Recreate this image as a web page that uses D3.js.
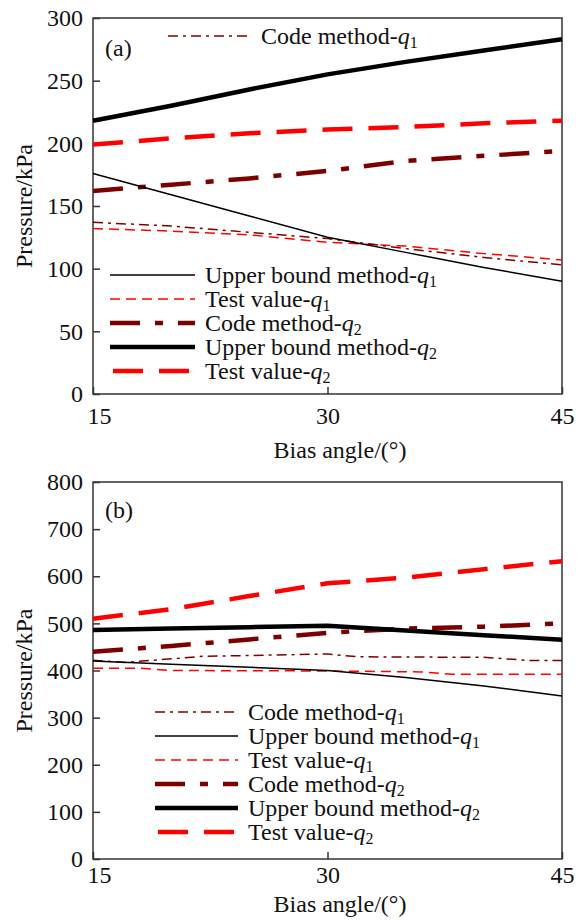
<!DOCTYPE html>
<html>
<head>
<meta charset="utf-8">
<script src="https://cdn.jsdelivr.net/npm/d3@7"></script>
<style>
  body { margin: 0; background: #fff; }
  svg { display: block; }
  text { font-family: "Liberation Serif", "Times New Roman", serif; fill: #111; }
</style>
</head>
<body>
<div id="chart"></div>
<script>
// bias angles
var anglesA = [15, 20, 25, 30, 35, 40, 45];
var angleTicks = [15, 30, 45];

// panel (a) values, kPa
var codeQ1A = [137, 134, 129, 124, 116, 109, 103];
var upperQ1A = [176, 159, 142, 125, 113, 101, 90];
var testQ1A = [132, 130, 127, 121, 118, 112, 107];
var codeQ2A = [162, 167, 172, 178, 186, 190, 194];
var upperQ2A = [218, 230, 243, 255, 265, 274, 283];
var testQ2A = [199, 204, 208, 211, 213, 216, 218];
var ticksA = [0, 50, 100, 150, 200, 250, 300];

// panel (b) values, kPa
var anglesCodeQ1B = [15, 17, 22, 30, 32, 40, 43, 45];
var codeQ1B = [422, 417, 430, 435, 429, 428, 421, 421];
var upperQ1B = [420, 413, 407, 400, 385, 367, 346];
var anglesTestQ1B = [15, 18, 20, 30, 36, 38, 45];
var testQ1B = [405, 405, 400, 399, 397, 392, 392];
var codeQ2B = [440, 452, 466, 480, 489, 493, 500];
var upperQ2B = [486, 489, 492, 495, 485, 475, 465];
var testQ2B = [510, 530, 558, 585, 597, 615, 632];
var ticksB = [0, 100, 200, 300, 400, 500, 600, 700, 800];

var W = 582, H = 920;
var FS = 24;
var svg = d3.select("#chart").append("svg").attr("width", W).attr("height", H);

// line styles
var styles = {
  codeQ1:  {color: "#7d0000", width: 1.5, dash: "10,5,3,5"},
  upperQ1: {color: "#000",    width: 1.5, dash: null},
  testQ1:  {color: "#ff0000", width: 1.5, dash: "10,6"},
  codeQ2:  {color: "#7d0000", width: 4.5, dash: "30,15,8,15"},
  upperQ2: {color: "#000",    width: 4.5, dash: null},
  testQ2:  {color: "#ff0000", width: 4.5, dash: "30,16"}
};

function sub(t, n) {
  // label text + italic q with subscript
  t.append("tspan").text(n[0]);
  t.append("tspan").attr("font-style", "italic").text("q");
  t.append("tspan").attr("font-size", 16).attr("dy", 4).text(n[1]);
}

function panel(o) {
  var x = d3.scaleLinear().domain([15, 45]).range([93, 562]);
  var y = d3.scaleLinear().domain(o.domain).range([o.bottom, o.top]);
  var g = svg.append("g");

  // frame
  g.append("rect").attr("x", 93).attr("y", o.top)
    .attr("width", 562 - 93).attr("height", o.bottom - o.top)
    .attr("fill", "none").attr("stroke", "#333").attr("stroke-width", 1.5);

  // y ticks (inward)
  var ya = d3.axisLeft(y).tickValues(o.ticks).tickSize(-7).tickPadding(10).tickFormat(d3.format("d"));
  var yg = g.append("g").attr("transform", "translate(93,0)").call(ya);
  yg.select(".domain").remove();
  yg.selectAll("line").attr("stroke", "#333").attr("stroke-width", 1.5);
  yg.selectAll("text").attr("font-size", FS).attr("fill", "#111");

  // x ticks (inward)
  var xa = d3.axisBottom(x).tickValues(angleTicks).tickSize(-7).tickPadding(o.xPad).tickFormat(d3.format("d"));
  var xg = g.append("g").attr("transform", "translate(0," + o.bottom + ")").call(xa);
  xg.select(".domain").remove();
  xg.selectAll("line").attr("stroke", "#333").attr("stroke-width", 1.5);
  xg.selectAll("text").attr("font-size", FS).attr("fill", "#111")
    .attr("dx", function(d) { return d === 15 ? 6 : 0; });

  // axis titles
  g.append("text").attr("x", 340).attr("y", o.bottom + o.titleOff).attr("text-anchor", "middle")
    .attr("font-size", FS).text("Bias angle/(°)");
  g.append("text").attr("transform", "translate(32," + ((o.top + o.bottom) / 2) + ") rotate(-90)")
    .attr("text-anchor", "middle").attr("font-size", FS).text("Pressure/kPa");

  g.append("text").attr("x", 105).attr("y", o.top + o.tagOff).attr("font-size", FS).text(o.tag);

  // series
  o.series.forEach(function(s) {
    var st = styles[s.key];
    var pts = s.values.map(function(v, i) { return [s.angles[i], v]; });
    var line = d3.line().x(function(d) { return x(d[0]); }).y(function(d) { return y(d[1]); });
    g.append("path").attr("d", line(pts)).attr("fill", "none")
      .attr("stroke", st.color).attr("stroke-width", st.width)
      .attr("stroke-dasharray", st.dash);
  });

  // legend
  o.legend.forEach(function(l) {
    var st = styles[l.key];
    g.append("line").attr("x1", l.x0).attr("x2", l.x1).attr("y1", l.y).attr("y2", l.y)
      .attr("stroke", st.color).attr("stroke-width", st.width).attr("stroke-dasharray", st.dash);
    var t = g.append("text").attr("x", l.x1 + 10).attr("y", l.y + 8).attr("font-size", FS);
    sub(t, [l.label, l.n]);
  });
}

panel({
  tag: "(a)", tagOff: 38, domain: [0, 300], top: 18, bottom: 394, ticks: ticksA,
  xPad: 13, titleOff: 64,
  series: [
    {key: "testQ2", angles: anglesA, values: testQ2A},
    {key: "codeQ2", angles: anglesA, values: codeQ2A},
    {key: "upperQ2", angles: anglesA, values: upperQ2A},
    {key: "testQ1", angles: anglesA, values: testQ1A},
    {key: "codeQ1", angles: anglesA, values: codeQ1A},
    {key: "upperQ1", angles: anglesA, values: upperQ1A}
  ],
  legend: [
    {key: "codeQ1", label: "Code method-", n: "1", x0: 168, x1: 251, y: 36},
    {key: "upperQ1", label: "Upper bound method-", n: "1", x0: 110, x1: 195, y: 275},
    {key: "testQ1", label: "Test value-", n: "1", x0: 110, x1: 195, y: 299},
    {key: "codeQ2", label: "Code method-", n: "2", x0: 110, x1: 195, y: 323},
    {key: "upperQ2", label: "Upper bound method-", n: "2", x0: 110, x1: 195, y: 347},
    {key: "testQ2", label: "Test value-", n: "2", x0: 113, x1: 195, y: 371}
  ]
});

panel({
  tag: "(b)", tagOff: 36, domain: [0, 800], top: 482, bottom: 859, ticks: ticksB,
  xPad: 7, titleOff: 53,
  series: [
    {key: "testQ2", angles: anglesA, values: testQ2B},
    {key: "codeQ2", angles: anglesA, values: codeQ2B},
    {key: "upperQ2", angles: anglesA, values: upperQ2B},
    {key: "testQ1", angles: anglesTestQ1B, values: testQ1B},
    {key: "codeQ1", angles: anglesCodeQ1B, values: codeQ1B},
    {key: "upperQ1", angles: anglesA, values: upperQ1B}
  ],
  legend: [
    {key: "codeQ1", label: "Code method-", n: "1", x0: 155, x1: 238, y: 712},
    {key: "upperQ1", label: "Upper bound method-", n: "1", x0: 155, x1: 238, y: 736},
    {key: "testQ1", label: "Test value-", n: "1", x0: 155, x1: 238, y: 760},
    {key: "codeQ2", label: "Code method-", n: "2", x0: 155, x1: 238, y: 784},
    {key: "upperQ2", label: "Upper bound method-", n: "2", x0: 155, x1: 238, y: 808},
    {key: "testQ2", label: "Test value-", n: "2", x0: 158, x1: 238, y: 832}
  ]
});
</script>
</body>
</html>
